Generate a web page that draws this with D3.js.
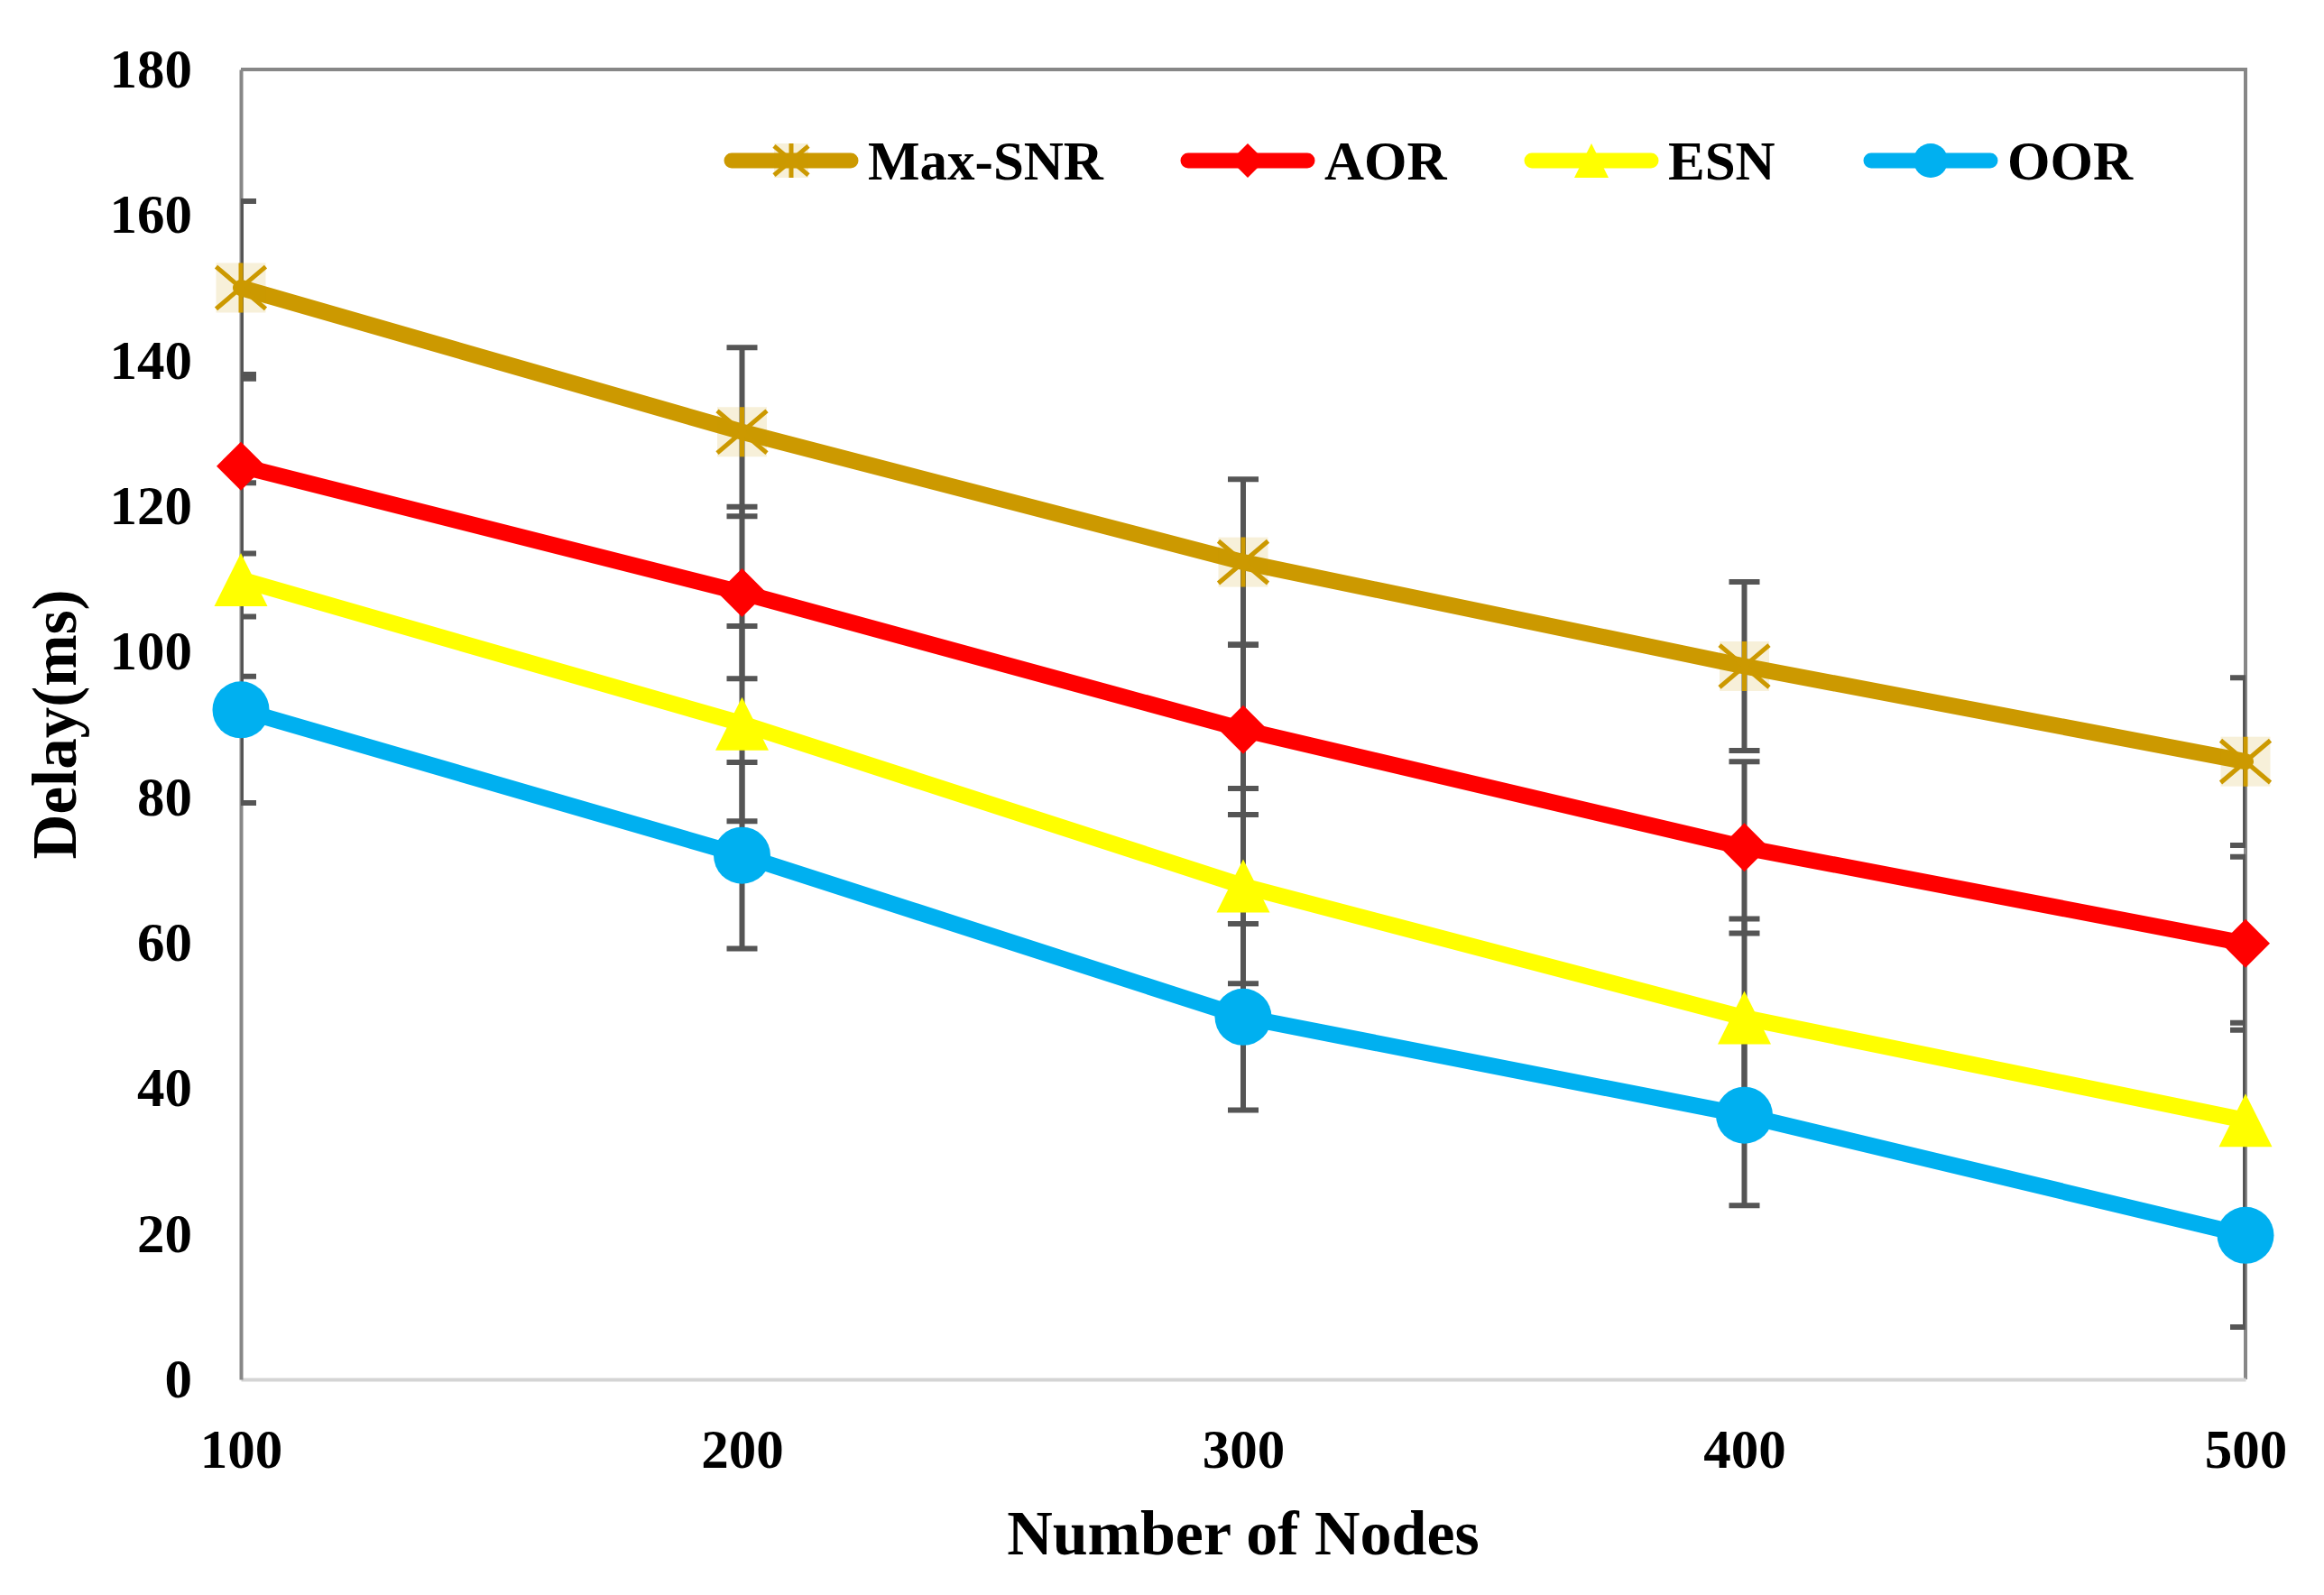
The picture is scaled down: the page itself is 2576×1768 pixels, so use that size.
<!DOCTYPE html>
<html>
<head>
<meta charset="utf-8">
<script src="https://cdn.jsdelivr.net/npm/d3@7"></script>
<style>
  html, body { margin: 0; padding: 0; background: #ffffff; }
  svg { display: block; }
  text { font-family: "Liberation Serif", "Times New Roman", serif; font-weight: bold; fill: #000; }
</style>
</head>
<body>
<div id="chart"></div>
<script>
// ---- data ----
const nodes = [100, 200, 300, 400, 500];
const seriesNames = ["Max-SNR", "AOR", "ESN", "OOR"];
const maxSnr = [150.0, 130.2, 112.3, 98.0, 84.9];
const aor    = [125.5, 108.1, 89.3, 73.1, 59.9];
const esn    = [109.9, 90.1, 67.8, 49.7, 35.6];
const oor    = [92.0, 72.0, 49.8, 36.3, 19.8];
const maxSnrErr = [11.9, 11.6, 11.4, 11.6, 11.5];
const aorErr    = [12.0, 11.8, 11.7, 11.8, 11.9];
const esnErr    = [13.3, 13.4, 13.4, 13.6, 13.4];
const oorErr    = [12.8, 12.8, 12.8, 12.4, 12.6];
const yTicks = [0, 20, 40, 60, 80, 100, 120, 140, 160, 180];
const xTicks = [100, 200, 300, 400, 500];
const xTitle = "Number of Nodes";
const yTitle = "Delay(ms)";

const colors = ["#CC9900", "#FF0000", "#FFFF00", "#00B0F0"];
const shapes = ["star", "diamond", "triangle", "circle"];
const seriesValues = [maxSnr, aor, esn, oor];
const seriesErrs = [maxSnrErr, aorErr, esnErr, oorErr];

const W = 2576, H = 1768;
const svg = d3.select("#chart").append("svg").attr("width", W).attr("height", H);

const x = d3.scaleLinear().domain([100, 500]).range([267, 2489]);
const y = d3.scaleLinear().domain([0, 180]).range([1529, 77]);

// plot border (top & right)
svg.append("path")
  .attr("d", `M${x(100)},${y(180)}H${x(500)}V${y(0)}`)
  .attr("fill", "none").attr("stroke", "#878787").attr("stroke-width", 4);

// axes
const gx = svg.append("g").attr("transform", `translate(0,${y(0)})`)
  .call(d3.axisBottom(x).tickValues(xTicks).tickSize(0).tickPadding(55).tickFormat(d3.format("d")));
gx.select(".domain").attr("stroke", "#d4d4d4").attr("stroke-width", 4);
gx.selectAll("text").style("font-size", "61px").attr("fill", "#000");

const gy = svg.append("g").attr("transform", `translate(${x(100)},0)`)
  .call(d3.axisLeft(y).tickValues(yTicks).tickSize(0).tickPadding(54).tickFormat(d3.format("d")));
gy.select(".domain").attr("stroke", "#878787").attr("stroke-width", 4);
gy.selectAll("text").style("font-size", "61px").attr("fill", "#000");

// axis titles
svg.append("text").attr("x", (x(100) + x(500)) / 2).attr("y", 1723)
  .attr("text-anchor", "middle").style("font-size", "70px").text(xTitle);
svg.append("text").attr("transform", `translate(84,${y(90)}) rotate(-90)`)
  .attr("text-anchor", "middle").style("font-size", "69px").text(yTitle);

// clip
svg.append("clipPath").attr("id", "plotclip").append("rect")
  .attr("x", x(100)).attr("y", y(180) - 10).attr("width", x(500) - x(100)).attr("height", y(0) - y(180) + 20);

// error bars
const eb = svg.append("g").attr("clip-path", "url(#plotclip)");
const capHalf = 17;
seriesValues.forEach((vals, si) => {
  vals.forEach((v, i) => {
    const e = seriesErrs[si][i];
    const cx = x(nodes[i]);
    const g = eb.append("g").attr("stroke", "#555555").attr("stroke-width", 6).attr("fill", "none");
    g.append("line").attr("x1", cx).attr("x2", cx).attr("y1", y(v + e)).attr("y2", y(v - e));
    g.append("line").attr("x1", cx - capHalf).attr("x2", cx + capHalf).attr("y1", y(v + e)).attr("y2", y(v + e));
    g.append("line").attr("x1", cx - capHalf).attr("x2", cx + capHalf).attr("y1", y(v - e)).attr("y2", y(v - e));
  });
});

// lines
const line = d3.line().x((d, i) => x(nodes[i])).y(d => y(d));
seriesValues.forEach((vals, si) => {
  svg.append("path").datum(vals).attr("d", line)
    .attr("fill", "none").attr("stroke", colors[si]).attr("stroke-width", 18)
    .attr("stroke-linejoin", "round").attr("stroke-linecap", "round");
});

// markers
function drawMarker(g, shape, cx, cy, s, color) {
  const h = s / 2;
  if (shape === "star") {
    g.append("rect").attr("x", cx - h).attr("y", cy - h).attr("width", s).attr("height", s)
      .attr("fill", color).attr("fill-opacity", 0.15);
    g.append("path")
      .attr("d", `M${cx - h},${cy - h * 0.85}L${cx + h},${cy + h * 0.85}M${cx - h},${cy + h * 0.85}L${cx + h},${cy - h * 0.85}M${cx},${cy - h}V${cy + h}`)
      .attr("stroke", color).attr("stroke-width", 5).attr("fill", "none");
  } else if (shape === "diamond") {
    g.append("path").attr("d", `M${cx},${cy - h}L${cx + h},${cy}L${cx},${cy + h}L${cx - h},${cy}Z`).attr("fill", color);
  } else if (shape === "triangle") {
    g.append("path").attr("d", `M${cx},${cy - h}L${cx + h},${cy + h}L${cx - h},${cy + h}Z`).attr("fill", color);
  } else {
    g.append("circle").attr("cx", cx).attr("cy", cy).attr("r", h).attr("fill", color);
  }
}
const markerSizes = [55, 54, 59, 63];
seriesValues.forEach((vals, si) => {
  const g = svg.append("g");
  vals.forEach((v, i) => drawMarker(g, shapes[si], x(nodes[i]), y(v), markerSizes[si], colors[si]));
});

// legend
const legendY = 178;
const legendStarts = [803, 1309, 1690, 2066];
const legendLen = 148;
seriesNames.forEach((name, si) => {
  const g = svg.append("g");
  const x0 = legendStarts[si];
  g.append("line").attr("x1", x0 + 8).attr("x2", x0 + legendLen - 8).attr("y1", legendY).attr("y2", legendY)
    .attr("stroke", colors[si]).attr("stroke-width", 17).attr("stroke-linecap", "round");
  drawMarker(g, shapes[si], x0 + legendLen / 2, legendY, 38, colors[si]);
  g.append("text").attr("x", x0 + legendLen + 11).attr("y", legendY + 21)
    .style("font-size", "61px").text(name);
});
</script>
</body>
</html>
